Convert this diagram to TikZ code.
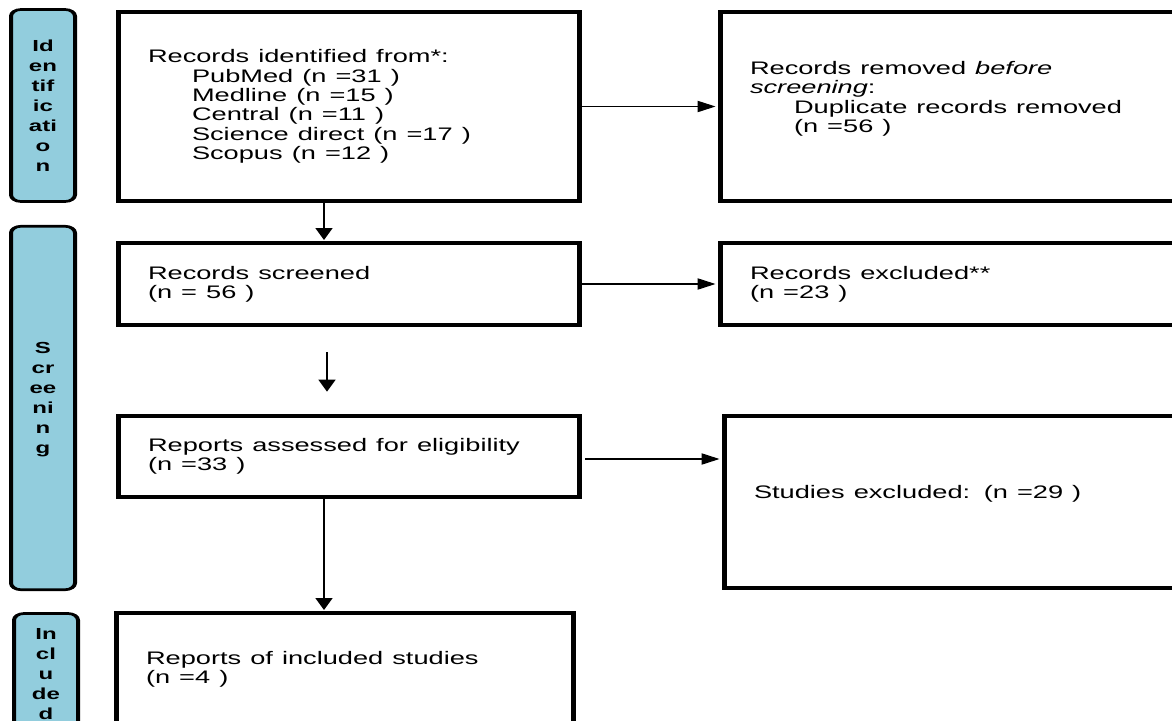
\documentclass[tikz,border=0pt]{standalone}
\usepackage{fontspec}
\setmainfont{Liberation Sans}
\usetikzlibrary{arrows.meta}
\definecolor{phaseblue}{RGB}{146,205,221}

\begin{document}
\begin{tikzpicture}[x=0.75pt, y=-0.75pt,
    box/.style={draw, line width=2.5pt, align=left, inner xsep=15pt, inner ysep=0pt,
      font=\fontsize{13.6pt}{14.5pt}\selectfont},
    phase/.style={draw, line width=2pt, rounded corners=5pt, fill=phaseblue,
      minimum width=32pt, inner sep=0pt, align=center,
      font=\fontsize{12pt}{15pt}\selectfont\bfseries},
    arr/.style={line width=0.8pt, shorten >=1pt, -{Triangle[length=9pt, width=8.5pt]}}]
\useasboundingbox (0,0) rectangle (1172,721);
\begin{scope}[x=0.5pt, transform canvas={xscale=1.5}]
\node[phase, minimum height=144pt] (idbar) at (43,105.5) {Id\\en\\tif\\ic\\ati\\o\\n};
\node[phase, minimum height=272.6pt] (scrbar) at (43,408) {S\\cr\\ee\\ni\\n\\g\\~};
\node[phase, minimum height=105.75pt] (incbar) at (46,684) {In\\cl\\u\\de\\d\\~};

\node[box, text width=200.5pt, minimum height=141.75pt] (ident) at (348.5,106.5)
  {Records identified from*:\\
   \hspace*{22pt}PubMed (n =31 )\\
   \hspace*{22pt}Medline (n =15 )\\
   \hspace*{22pt}Central (n =11 )\\
   \hspace*{22pt}Science direct (n =17 )\\
   \hspace*{22pt}Scopus (n =12 )};
\node[box, text width=210pt, minimum height=141.75pt] (removed) at (960,106.5)
  {Records removed \textit{before}\\
   \textit{screening}:\\
   \hspace*{22pt}Duplicate records removed\\
   \hspace*{22pt}(n =56 )\\~};
\node[box, text width=200.5pt, minimum height=61.5pt] (screen) at (348.5,284)
  {Records screened\\(n = 56 )};
\node[box, text width=210pt, minimum height=61.5pt] (excl) at (960,284)
  {Records excluded**\\(n =23 )};
\node[box, text width=200.5pt, minimum height=60.75pt] (assess) at (348.5,456.5)
  {Reports assessed for eligibility\\(n =33 )};
\node[box, text width=208pt, minimum height=129pt] (studies) at (962,502)
  {Studies excluded: (n =29 )\\~};
\node[box, text width=198.5pt, minimum height=84pt] (incl) at (344.5,669)
  {Reports of included studies\\(n =4 )};

\coordinate (spine) at (324,0);
\coordinate (gapA) at (327,352);
\coordinate (gapB) at (327,393);
\coordinate (elig) at (585,459);

\draw[arr] (ident.east) -- (removed.west);
\draw[arr] (ident.south -| spine) -- (screen.north -| spine);
\draw[arr] (screen.east) -- (excl.west);
\draw[arr] (gapA) -- (gapB);
\draw[arr] (elig) -- (studies.west |- elig);
\draw[arr] (assess.south -| spine) -- (incl.north -| spine);
\end{scope}
\end{tikzpicture}
\end{document}
